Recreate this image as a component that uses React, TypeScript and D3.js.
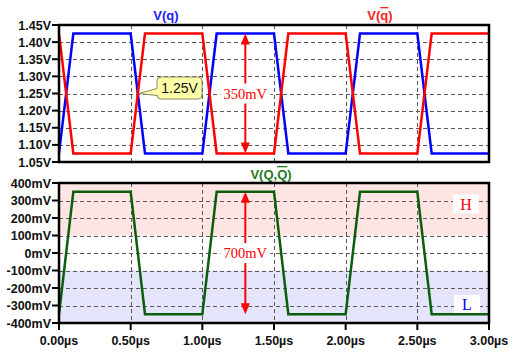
import * as d3 from "d3";
import React from "react";

// transient sim: time in µs, node voltages
const timeUs = [0, 0.1, 0.5, 0.6, 1.0, 1.1, 1.5, 1.6, 2.0, 2.1, 2.5, 2.6, 3.0];
const vQ = [1.075, 1.425, 1.425, 1.075, 1.075, 1.425, 1.425, 1.075, 1.075, 1.425, 1.425, 1.075, 1.075];
const vQbar = [1.425, 1.075, 1.075, 1.425, 1.425, 1.075, 1.075, 1.425, 1.425, 1.075, 1.075, 1.425, 1.425];
const vDiffMv = [-350, 350, 350, -350, -350, 350, 350, -350, -350, 350, 350, -350, -350];

const topTicks = [1.05, 1.1, 1.15, 1.2, 1.25, 1.3, 1.35, 1.4, 1.45];
const botTicks = [-400, -300, -200, -100, 0, 100, 200, 300, 400];
const timeTicks = [0, 0.5, 1.0, 1.5, 2.0, 2.5, 3.0];

const W = 515;
const H = 352;

const tickFont = "'Liberation Sans', Arial, sans-serif";
const serif = "'Liberation Serif', 'Times New Roman', serif";

const App: React.FC = () => {
  const x = d3.scaleLinear().domain([0, 3]).range([59, 489]);
  const yTop = d3.scaleLinear().domain([1.05, 1.45]).range([162, 25]);
  const yBot = d3.scaleLinear().domain([-400, 400]).range([323, 183]);

  const lineTop = (vals: number[]) =>
    d3.line<number>().x((_, i) => x(timeUs[i])).y((d) => yTop(d))(vals) || "";
  const lineBot = d3.line<number>().x((_, i) => x(timeUs[i])).y((d) => yBot(d))(vDiffMv) || "";

  const arrowX = x(1.3);

  // double arrow with a gap for its label
  const arrow = (y1: number, y2: number, yMid: number, label: string) => {
    const head = 10;
    const hw = 4.5;
    return (
      <g>
        <rect x={arrowX - 25} y={yMid - 9} width={50} height={18} fill="#fff" />
        <line x1={arrowX} x2={arrowX} y1={y1 + head} y2={yMid - 10} stroke="#f00" strokeWidth={2} />
        <line x1={arrowX} x2={arrowX} y1={yMid + 10} y2={y2 - head} stroke="#f00" strokeWidth={2} />
        <polygon points={`${arrowX},${y1} ${arrowX - hw},${y1 + head + 1} ${arrowX + hw},${y1 + head + 1}`} fill="#f00" />
        <polygon points={`${arrowX},${y2} ${arrowX - hw},${y2 - head - 1} ${arrowX + hw},${y2 - head - 1}`} fill="#f00" />
        <text x={arrowX} y={yMid + 5} textAnchor="middle" fill="#f00" fontFamily={serif} fontSize={14.5}>
          {label}
        </text>
      </g>
    );
  };

  const grid = (yScale: d3.ScaleLinear<number, number>, ticks: number[], y0: number, y1: number) => (
    <g stroke="#5a5a5a" strokeWidth={1} strokeDasharray="4,3">
      {ticks.slice(1, -1).map((t) => (
        <line key={"h" + t} x1={x(0)} x2={x(3)} y1={Math.round(yScale(t)) + 0.5} y2={Math.round(yScale(t)) + 0.5} />
      ))}
      {timeTicks.slice(1, -1).map((t) => (
        <line key={"v" + t} x1={Math.round(x(t)) + 0.5} x2={Math.round(x(t)) + 0.5} y1={y0} y2={y1} />
      ))}
    </g>
  );

  const yAxis = (yScale: d3.ScaleLinear<number, number>, ticks: number[], fmt: (v: number) => string) => (
    <g>
      {ticks.map((t) => (
        <g key={t}>
          <line x1={52} x2={59} y1={yScale(t)} y2={yScale(t)} stroke="#000" strokeWidth={2} />
          <text x={51} y={yScale(t) + 4.5} textAnchor="end" fontFamily={tickFont} fontWeight="bold" fontSize={12.5} fill="#111">
            {fmt(t)}
          </text>
        </g>
      ))}
    </g>
  );

  const crossX = x(0.55);
  const crossY = yTop(1.25);

  return (
    <svg width={W} height={H} style={{ position: "absolute", left: 0, top: 0, background: "#fff" }}>
      {/* top pane */}
      {grid(yTop, topTicks, yTop(1.45), yTop(1.05))}
      <path d={lineTop(vQ)} fill="none" stroke="#0000ff" strokeWidth={2.5} />
      <path d={lineTop(vQbar)} fill="none" stroke="#ff0000" strokeWidth={2.5} />
      {arrow(yTop(1.425), yTop(1.075), yTop(1.25), "350mV")}
      <rect x={x(0)} y={yTop(1.45)} width={x(3) - x(0)} height={yTop(1.05) - yTop(1.45)} fill="none" stroke="#000" strokeWidth={2.5} />
      {yAxis(yTop, topTicks, (v) => v.toFixed(2) + "V")}

      {/* callout */}
      <g>
        <path
          d={`M${crossX + 1},${crossY} L157,${crossY - 5} L157,81 Q157,77 161,77 L198,77 Q202,77 202,81 L202,95 Q202,99 198,99 L161,99 Q157,99 157,95 L157,${crossY + 2} Z`}
          fill="#ffffa8"
          stroke="#8c8c6a"
          strokeWidth={1}
        />
        <text x={179.5} y={93} textAnchor="middle" fontFamily={tickFont} fontSize={14} fill="#111">
          1.25V
        </text>
      </g>

      {/* titles */}
      <text x={166} y={20} textAnchor="middle" fontFamily={tickFont} fontWeight="bold" fontSize={13} fill="#2020ff">
        V(q)
      </text>
      <text x={380} y={20} textAnchor="middle" fontFamily={tickFont} fontWeight="bold" fontSize={13} fill="#ff2020">
        V(<tspan style={{ textDecoration: "overline" }}>q</tspan>)
      </text>
      <text x={271} y={179} textAnchor="middle" fontFamily={tickFont} fontWeight="bold" fontSize={13} fill="#1f7a1f">
        V(Q,<tspan style={{ textDecoration: "overline" }}>Q</tspan>)
      </text>

      {/* bottom pane */}
      <rect x={x(0)} y={yBot(400)} width={x(3) - x(0)} height={yBot(100) - yBot(400)} fill="#ffe4e4" />
      <rect x={x(0)} y={yBot(-100)} width={x(3) - x(0)} height={yBot(-400) - yBot(-100)} fill="#e4e4fa" />
      {grid(yBot, botTicks, yBot(400), yBot(-400))}
      <rect x={453} y={yBot(300) - 6} width={26} height={19} fill="#fff" />
      <text x={466} y={yBot(300) + 9} textAnchor="middle" fontFamily={serif} fontSize={16} fill="#f00">
        H
      </text>
      <rect x={454} y={yBot(-200) + 7} width={26} height={19} fill="#fff" />
      <text x={467} y={yBot(-200) + 22} textAnchor="middle" fontFamily={serif} fontSize={16} fill="#00f">
        L
      </text>
      <path d={lineBot} fill="none" stroke="#0b5e0b" strokeWidth={2.5} />
      {arrow(yBot(350), yBot(-350), yBot(0), "700mV")}
      <rect x={x(0)} y={yBot(400)} width={x(3) - x(0)} height={yBot(-400) - yBot(400)} fill="none" stroke="#000" strokeWidth={2.5} />
      {yAxis(yBot, botTicks, (v) => v + "mV")}
      {timeTicks.map((t) => (
        <g key={t}>
          <line x1={x(t)} x2={x(t)} y1={yBot(-400)} y2={yBot(-400) + 7} stroke="#000" strokeWidth={2} />
          <text x={x(t)} y={345} textAnchor="middle" fontFamily={tickFont} fontWeight="bold" fontSize={12.5} fill="#111">
            {t.toFixed(2) + "µs"}
          </text>
        </g>
      ))}
    </svg>
  );
};

export default App;
